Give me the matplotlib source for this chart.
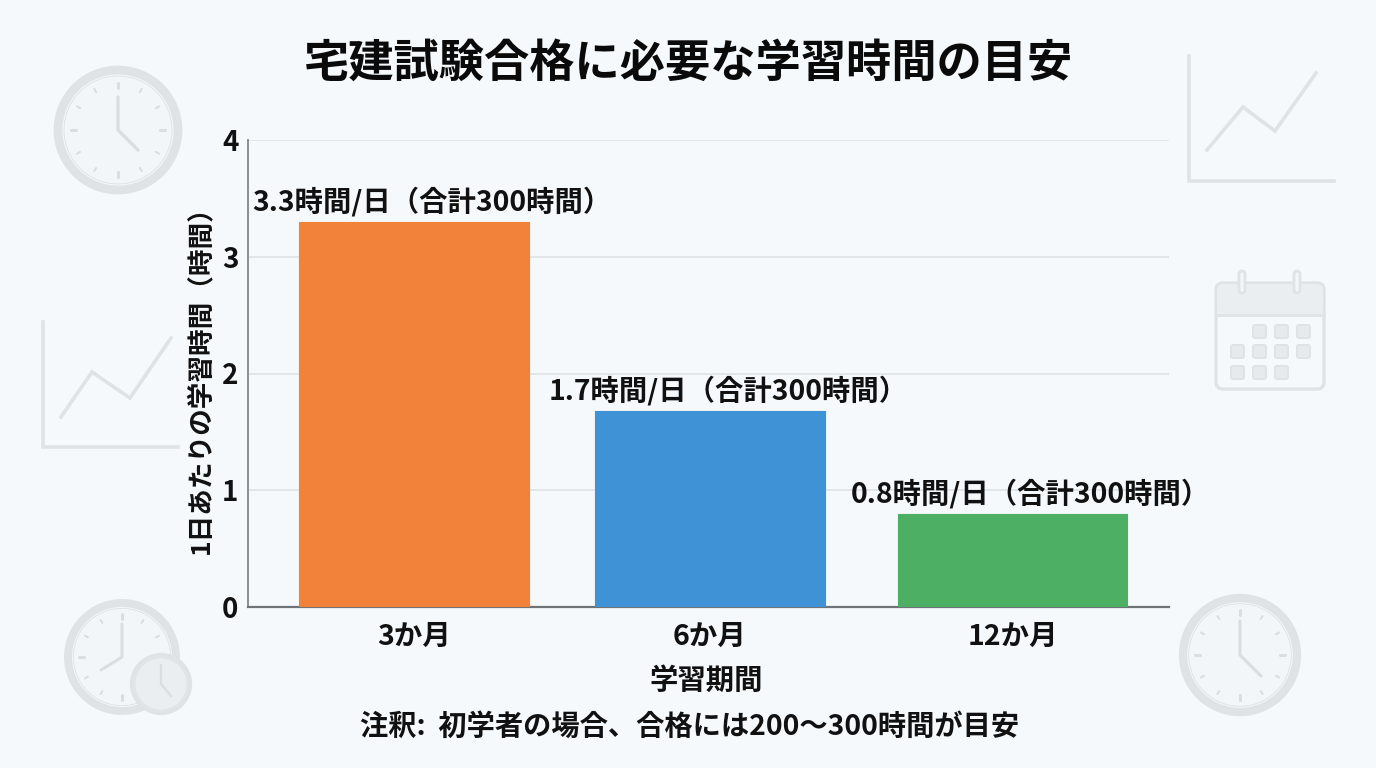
import numpy as np
import matplotlib
matplotlib.use("Agg")
import matplotlib.pyplot as plt
from matplotlib.patches import Circle, FancyBboxPatch

plt.rcParams['font.family'] = ['Noto Sans CJK JP', 'DejaVu Sans']

categories = ['3か月', '6か月', '12か月']
hours_per_day = [3.3, 1.68, 0.8]
bar_labels = ['3.3時間/日（合計300時間）', '1.7時間/日（合計300時間）', '0.8時間/日（合計300時間）']
bar_colors = ['#F2823A', '#3F92D6', '#4CAF64']
y_ticks = [0, 1, 2, 3, 4]
title = '宅建試験合格に必要な学習時間の目安'
y_title = '1日あたりの学習時間（時間）'
x_title = '学習期間'
note = '注釈:  初学者の場合、合格には200〜300時間が目安'

W, H = 1376, 768
BG = '#F5F9FB'
DECO = '#DFE3E6'
DECO_DARK = '#DADEE1'
fig = plt.figure(figsize=(W / 100, H / 100), dpi=100, facecolor=BG)

# Decorative background layer in pixel coordinates
bg = fig.add_axes([0, 0, 1, 1], zorder=0)
bg.set_xlim(0, W)
bg.set_ylim(H, 0)
bg.axis('off')


def clock(cx, cy, r, hour_tip, minute_tip, ticks=True, z=2, face='#F3F6F8'):
    bg.add_patch(Circle((cx, cy), r, fc=face, ec=DECO, lw=r * 0.105, zorder=z))
    bg.add_patch(Circle((cx, cy), r * 0.9, fc='none', ec=DECO_DARK, lw=0.5, zorder=z + 0.1))
    if ticks:
        for i in range(12):
            a = np.radians(30 * i)
            major = i % 3 == 0
            r0, r1 = (0.7, 0.79) if major else (0.73, 0.79)
            bg.plot([cx + r0 * r * np.sin(a), cx + r1 * r * np.sin(a)],
                    [cy - r0 * r * np.cos(a), cy - r1 * r * np.cos(a)],
                    color=DECO_DARK, lw=2.2 if major else 1.5, solid_capstyle='round', zorder=z + 0.1)
    bg.plot([cx + minute_tip[0], cx, cx + hour_tip[0]],
            [cy + minute_tip[1], cy, cy + hour_tip[1]],
            color=DECO_DARK, lw=max(r * 0.04, 1.7), solid_capstyle='round', solid_joinstyle='round',
            zorder=z + 0.2)


clock(118, 130, 60, (20, 20), (0, -33))
clock(122, 657, 54, (-21, 13), (0, -33))
clock(161, 684, 29, (10, 12), (0, -19), ticks=False, z=5, face='#EBEEF1')
clock(1240, 655, 57, (21, 21), (0, -34))


def chart_icon(x0, y0, x1, y1, xs, ys):
    bg.plot([x0, x0, x1], [y0, y1, y1], color=DECO, lw=2.6, solid_joinstyle='miter', zorder=2)
    bg.plot(xs, ys, color=DECO, lw=2.6, solid_joinstyle='miter', zorder=2)


chart_icon(1189, 56, 1334, 181, [1207, 1243, 1275, 1316], [150, 107, 131, 73])
chart_icon(43, 322, 178, 447, [61, 92, 130, 171], [417, 372, 398, 338])

# Calendar
bg.add_patch(FancyBboxPatch((1216, 283), 108, 106, boxstyle='round,pad=0,rounding_size=7',
                            fc='#F6F9FB', ec=DECO, lw=2.4, zorder=2))
bg.add_patch(FancyBboxPatch((1217, 284), 106, 31, boxstyle='round,pad=0,rounding_size=6',
                            fc='#EAEEF1', ec='none', zorder=3))
bg.plot([1216, 1324], [315, 315], color=DECO, lw=2, zorder=4)
for ring_x in (1242, 1297):
    bg.add_patch(FancyBboxPatch((ring_x - 3, 271), 6, 22, boxstyle='round,pad=0,rounding_size=3',
                                fc='#F3F6F8', ec=DECO, lw=2, zorder=5))
cells = [(1259, 331), (1281, 331), (1303, 331),
         (1237, 351), (1259, 351), (1281, 351), (1303, 351),
         (1237, 372), (1259, 372), (1281, 372)]
for cx, cy in cells:
    bg.add_patch(FancyBboxPatch((cx - 6, cy - 6), 13, 13, boxstyle='round,pad=0,rounding_size=2',
                                fc='#E7EAED', ec=DECO, lw=1.4, zorder=3))

# Main chart
L, R, T, B = 248, 1169, 140, 607
ax = fig.add_axes([L / W, 1 - B / H, (R - L) / W, (B - T) / H], zorder=1)
ax.patch.set_alpha(0)
x_positions = [0, 1, 2.022]
ax.bar(x_positions, hours_per_day, width=0.775, color=bar_colors, edgecolor=bar_colors,
       linewidth=0.8, joinstyle='round', zorder=3)
ax.set_xlim(-0.56, 2.55)
ax.set_ylim(0, 4)
ax.set_yticks(y_ticks)
ax.set_xticks(x_positions)
ax.set_xticklabels(categories, fontsize=20.5, fontweight='bold', color='#111111')
ax.tick_params(axis='x', length=0, pad=11.5)
ax.tick_params(axis='y', length=0, pad=7, labelsize=20, labelcolor='#111111')
for lab in ax.get_yticklabels():
    lab.set_fontweight('bold')
ax.grid(axis='y', color='#DCE1E4', lw=1.1, zorder=0)
ax.set_axisbelow(True)
for s in ('top', 'right'):
    ax.spines[s].set_visible(False)
ax.spines['left'].set_color('#8A8F93')
ax.spines['bottom'].set_color('#6E7377')
ax.spines['left'].set_linewidth(1.4)
ax.spines['bottom'].set_linewidth(1.6)

for x, v, lab in zip(x_positions, hours_per_day, bar_labels):
    ax.annotate(lab, (x, v), xytext=(13, 4), textcoords='offset points', ha='center', va='bottom',
                fontsize=20.4, fontweight='bold', color='#111111', zorder=5)

fig.text(688 / W, 1 - 63.5 / H, title, ha='center', va='center', fontsize=32.6, fontweight='bold', color='#0A0A0A')
fig.text(201 / W, 1 - 373 / H, y_title, ha='center', va='center', rotation=90, fontsize=19.2,
         fontweight='bold', color='#111111')
fig.text(706 / W, 1 - 681 / H, x_title, ha='center', va='center', fontsize=20.4, fontweight='bold', color='#111111')
fig.text(690 / W, 1 - 727 / H, note, ha='center', va='center', fontsize=20.35, fontweight='bold', color='#111111')

fig.savefig('out.png', dpi=100, facecolor=BG)
